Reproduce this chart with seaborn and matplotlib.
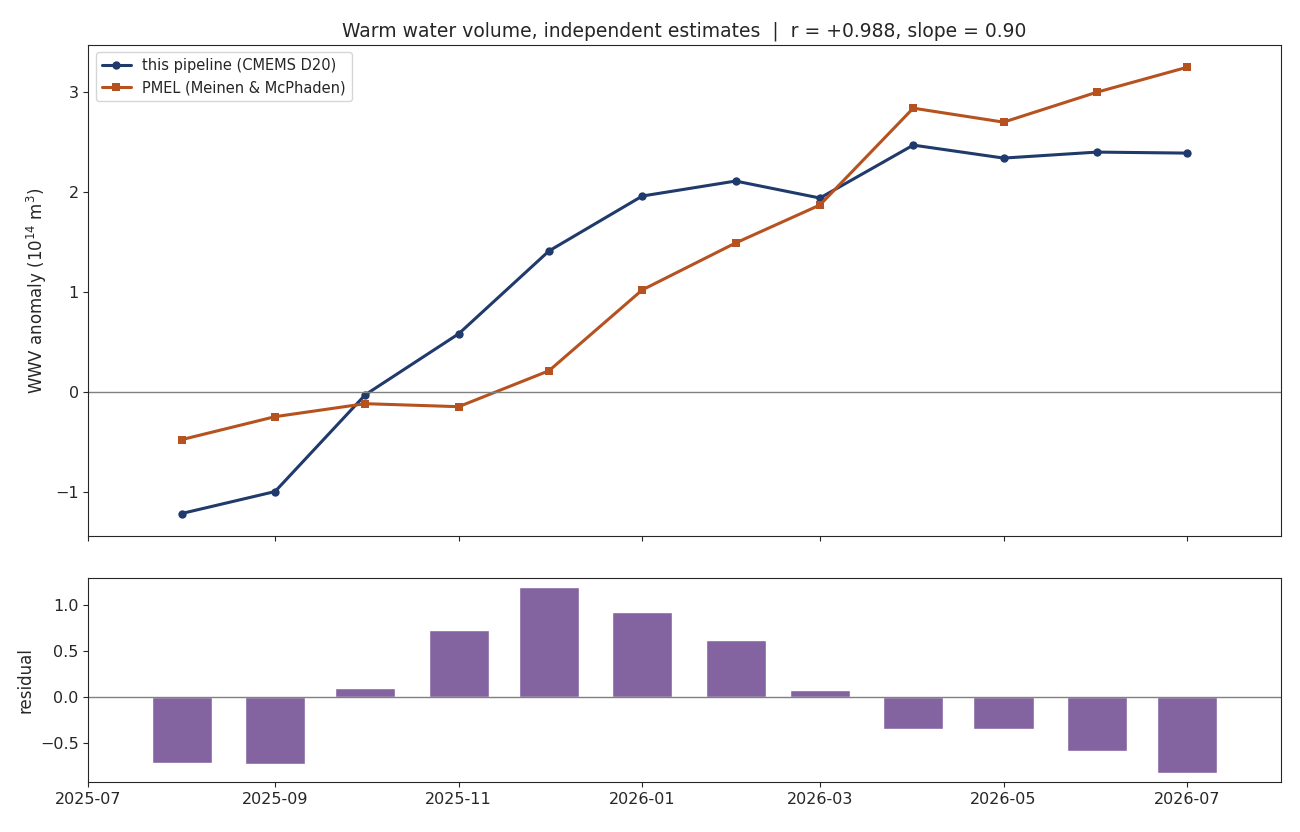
import matplotlib
matplotlib.use("Agg")
import matplotlib.pyplot as plt
import seaborn as sns
import pandas as pd
import numpy as np
import matplotlib.dates as mdates

months = ["2025-08","2025-09","2025-10","2025-11","2025-12","2026-01","2026-02","2026-03","2026-04","2026-05","2026-06","2026-07"]
pipeline = [-1.22,-1.00,-0.03,0.58,1.41,1.96,2.11,1.94,2.47,2.34,2.40,2.39]
pmel = [-0.48,-0.25,-0.12,-0.15,0.21,1.02,1.49,1.87,2.84,2.70,3.00,3.25]
residual = [-0.72,-0.73,0.10,0.73,1.20,0.93,0.62,0.07,-0.35,-0.35,-0.59,-0.83]

dates = pd.to_datetime([m + "-01" for m in months])
df = pd.DataFrame({"date": dates, "pipe": pipeline, "pmel": pmel, "res": residual})

sns.set_style("ticks")
plt.rcParams['font.family'] = ['DejaVu Sans']
fig, (ax1, ax2) = plt.subplots(2, 1, figsize=(13, 8.32), dpi=100, sharex=True,
                               gridspec_kw={"height_ratios": [2.4, 1]})
fig.subplots_adjust(left=0.068, right=0.985, top=0.946, bottom=0.06, hspace=0.12)

sns.lineplot(data=df, x="date", y="pipe", ax=ax1, color="#1f3a6b", marker="o", markersize=6,
             markeredgewidth=0, lw=2.2, label="this pipeline (CMEMS D20)")
sns.lineplot(data=df, x="date", y="pmel", ax=ax1, color="#b5521f", marker="s", markersize=6,
             markeredgewidth=0, lw=2.2, label="PMEL (Meinen & McPhaden)")
ax1.axhline(0, color="grey", lw=1)
ax1.set_ylabel("WWV anomaly (10$^{14}$ m$^3$)", fontsize=12)
ax1.set_xlabel("")
ax1.set_title("Warm water volume, independent estimates  |  r = +0.988, slope = 0.90", fontsize=13.5)
ax1.legend(loc="upper left", fontsize=10.5)
ax1.set_yticks([-1, 0, 1, 2, 3])
ax1.set_yticklabels(["\u22121", "0", "1", "2", "3"])

ax2.bar(df["date"], df["res"], width=20, color="#8464a0")
ax2.axhline(0, color="grey", lw=1)
ax2.set_ylabel("residual", fontsize=12)
ax2.set_yticks([-0.5, 0.0, 0.5, 1.0])
ax2.set_yticklabels(["\u22120.5", "0.0", "0.5", "1.0"])
ax2.xaxis.set_major_locator(mdates.MonthLocator(bymonth=[1,3,5,7,9,11]))
ax2.xaxis.set_major_formatter(mdates.DateFormatter("%Y-%m"))
ax2.set_xlim(pd.Timestamp("2025-07-01"), pd.Timestamp("2026-08-01"))
for ax in (ax1, ax2):
    ax.tick_params(labelsize=11.5)
fig.savefig("out.png")
